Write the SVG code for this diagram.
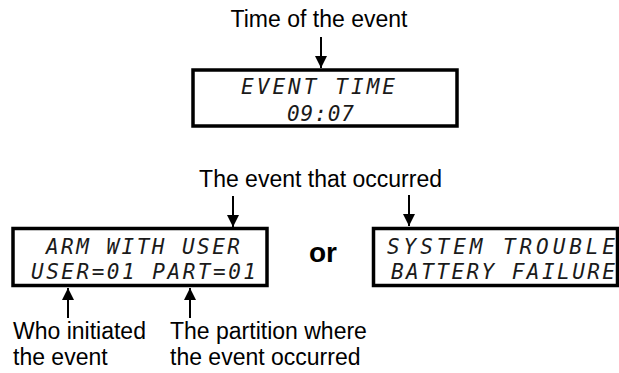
<svg xmlns="http://www.w3.org/2000/svg" width="619" height="373" viewBox="0 0 619 373">
<style>
.lbl{font-family:"Liberation Sans",Arial,sans-serif;font-size:23px;fill:#000}
.or{font-family:"Liberation Sans",Arial,sans-serif;font-size:28px;font-weight:bold;fill:#000}
.lcd{font-family:"DejaVu Sans Mono",monospace;font-style:oblique;font-size:21px;fill:#1a1a1a}
.box{fill:#fff;stroke:#000;stroke-width:3.5}
.shaft{stroke:#000;stroke-width:2;fill:none}
</style>
<defs>
<marker id="ah" markerWidth="12" markerHeight="13" refX="12" refY="6" orient="auto" markerUnits="userSpaceOnUse" viewBox="0 0 12 12">
<path d="M0,0 L12,6 L0,12 Z" fill="#000"/>
</marker>
</defs>
<rect width="619" height="373" fill="#fff"/>
<g id="connectors">
<line class="shaft" x1="321" y1="37" x2="321" y2="68" marker-end="url(#ah)"/>
<line class="shaft" x1="233" y1="196" x2="233" y2="227" marker-end="url(#ah)"/>
<line class="shaft" x1="409" y1="195" x2="409" y2="226" marker-end="url(#ah)"/>
<line class="shaft" x1="68" y1="318" x2="68" y2="288" marker-end="url(#ah)"/>
<line class="shaft" x1="190" y1="318" x2="190" y2="288" marker-end="url(#ah)"/>
</g>
<g id="label-time">
<text class="lbl" x="319" y="27" text-anchor="middle">Time of the event</text>
</g>
<g id="display-time">
<rect class="box" x="193" y="70" width="264" height="56"/>
<text class="lcd" x="241" y="94" textLength="154" lengthAdjust="spacing">EVENT TIME</text>
<text class="lcd" x="287" y="121" textLength="67" lengthAdjust="spacing">09:07</text>
</g>
<g id="label-event">
<text class="lbl" x="442" y="187" text-anchor="end">The event that occurred</text>
</g>
<g id="display-arm">
<rect class="box" x="13" y="228.5" width="254" height="57"/>
<text class="lcd" x="46" y="254" textLength="194" lengthAdjust="spacing">ARM WITH USER</text>
<text class="lcd" x="31" y="279" textLength="225" lengthAdjust="spacing">USER=01 PART=01</text>
</g>
<g id="or">
<text class="or" x="309" y="262">or</text>
</g>
<g id="display-trouble">
<rect class="box" x="373.5" y="228.5" width="244" height="57"/>
<text class="lcd" x="387" y="254" textLength="228" lengthAdjust="spacing">SYSTEM TROUBLE</text>
<text class="lcd" x="391" y="279" textLength="224" lengthAdjust="spacing">BATTERY FAILURE</text>
</g>
<g id="label-who">
<text class="lbl" x="13" y="339">Who initiated</text>
<text class="lbl" x="13" y="365">the event</text>
</g>
<g id="label-partition">
<text class="lbl" x="170" y="339">The partition where</text>
<text class="lbl" x="170" y="365">the event occurred</text>
</g>
</svg>
